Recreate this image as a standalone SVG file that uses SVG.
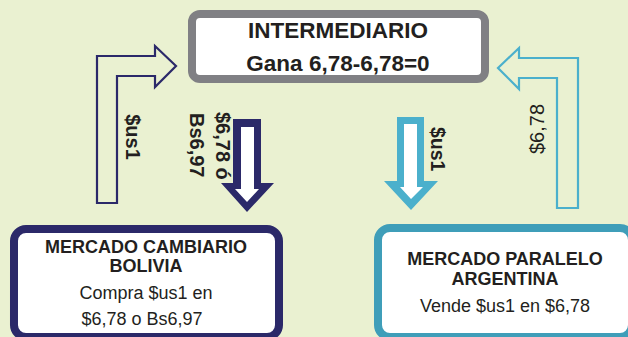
<svg xmlns="http://www.w3.org/2000/svg" width="628" height="337" viewBox="0 0 628 337">
<style>
.t{font-family:"Liberation Sans",Arial,sans-serif;fill:#231F20}
.b{font-weight:bold}
.navy{fill:#2B2969}
.cyan{fill:#4BB0CC}
</style>
<rect width="628" height="337" fill="#EAF1D1"/>
<g id="connectors">
  <path id="arrow-left-up" d="M97,203 L97,56 L155,56 L155,46 L176,66 L155,87 L155,76 L117,76 L117,203 Z" fill="#EAF1D1" stroke="#2B2969" stroke-width="2.2" stroke-linejoin="miter"/>
  <text class="t b" font-size="20" transform="translate(126,137) rotate(90)" text-anchor="middle">$us1</text>
  <g id="arrow-navy-down">
    <path class="navy" d="M233,119 L261,119 L261,183 L274,183 L247,212 L221,183 L233,183 Z"/>
    <path fill="#FFFFFF" d="M241,127 L254,127 L254,189 L259,189 L247,202 L235,189 L241,189 Z"/>
  </g>
  <text class="t b" font-size="20" transform="translate(216,112) rotate(90)">$6,78 ó</text>
  <text class="t b" font-size="20" transform="translate(190,113) rotate(90)">Bs6,97</text>
  <g id="arrow-cyan-down">
    <path class="cyan" d="M397,117 L424,117 L424,181 L438,181 L411,210 L384,181 L397,181 Z"/>
    <path fill="#FFFFFF" d="M404,124 L417,124 L417,187 L423,187 L411,199 L400,187 L404,187 Z"/>
  </g>
  <text class="t b" font-size="19.5" transform="translate(431,127) rotate(90)">$us1</text>
  <path id="arrow-right-up" d="M578,208 L578,58 L519,58 L519,48 L498,68 L519,89 L519,78 L557,78 L557,208 Z" fill="#EAF1D1" stroke="#4BB0CC" stroke-width="2.2"/>
  <text class="t" font-size="20" transform="translate(544,129) rotate(-90)" text-anchor="middle">$6,78</text>
</g>
<g id="node-intermediario">
  <rect x="192" y="14" width="293" height="65" rx="8" fill="#FFFFFF" stroke="#808084" stroke-width="8"/>
  <text class="t b" x="338" y="38" font-size="22.5" text-anchor="middle">INTERMEDIARIO</text>
  <text class="t b" x="338" y="71" font-size="22.5" text-anchor="middle">Gana 6,78-6,78=0</text>
</g>
<g id="node-bolivia">
  <rect x="14" y="229" width="265" height="108" rx="12" fill="#FFFFFF" stroke="#2B2969" stroke-width="8"/>
  <text class="t b" x="146" y="253" font-size="18" text-anchor="middle">MERCADO CAMBIARIO</text>
  <text class="t b" x="146" y="272" font-size="18" text-anchor="middle">BOLIVIA</text>
  <text class="t" x="146" y="299" font-size="18" text-anchor="middle">Compra $us1 en</text>
  <text class="t" x="142" y="325" font-size="18" text-anchor="middle">$6,78 o Bs6,97</text>
</g>
<g id="node-argentina">
  <rect x="378" y="228" width="254" height="109" rx="12" fill="#FFFFFF" stroke="#3F9EB9" stroke-width="8"/>
  <text class="t b" x="505" y="265" font-size="18" text-anchor="middle">MERCADO PARALELO</text>
  <text class="t b" x="505" y="285" font-size="18" text-anchor="middle">ARGENTINA</text>
  <text class="t" x="505" y="312" font-size="18" text-anchor="middle">Vende $us1 en $6,78</text>
</g>
</svg>
